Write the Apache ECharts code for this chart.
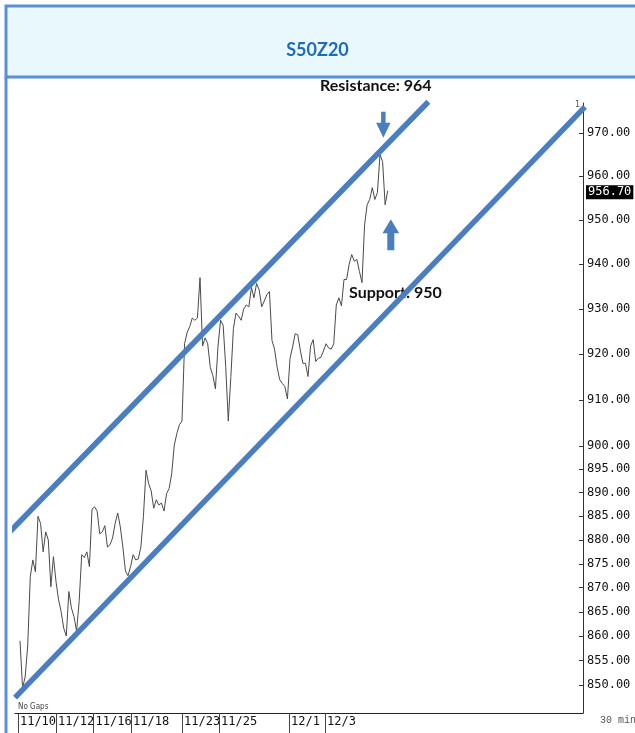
<!DOCTYPE html>
<html><head><meta charset="utf-8">
<script src="https://cdn.jsdelivr.net/npm/echarts@6/dist/echarts.min.js"></script>
<style>html,body{margin:0;padding:0;background:#fff}#c{width:635px;height:733px}</style>
</head><body><div id="c"></div>
<script>
// ---- data ----
const chartTitle = 'S50Z20';
// sampled closes (SET50 futures, 30-min chart), left to right
const closes = [
 859.0,849.4,851.6,858.0,872.3,875.8,873.3,885.0,883.5,877.5,
 881.7,880.0,870.2,876.5,871.3,867.5,865.0,861.6,860.0,869.2,
 865.8,864.0,861.0,867.1,876.9,876.3,877.5,874.4,886.5,887.0,
 886.1,881.3,881.7,883.0,878.5,879.0,880.4,883.5,885.7,882.8,
 878.5,873.5,872.5,874.4,876.9,875.8,876.0,878.5,885.0,894.8,
 892.0,890.4,886.7,888.5,887.4,887.8,886.1,889.8,890.9,894.1,
 900.2,902.7,904.6,905.4,922.3,924.8,926.1,928.0,927.5,928.0,
 937.0,921.8,923.6,922.3,917.1,915.3,912.4,921.8,927.5,926.4,
 917.3,905.4,915.1,925.7,929.1,928.4,927.5,930.0,930.9,930.5,
 934.8,932.5,935.7,934.3,930.5,931.8,933.2,933.9,923.0,921.1,
 917.1,914.4,913.6,912.9,910.2,919.1,921.6,924.5,924.3,920.9,
 918.0,918.0,915.1,921.8,923.2,918.4,919.1,919.3,920.7,922.3,
 921.4,921.1,922.3,930.9,932.5,930.7,936.6,936.6,940.0,942.2,
 940.7,941.1,938.4,935.9,948.9,953.5,954.7,957.4,954.7,956.3,
 965.0,963.4,953.5,956.7
];
const priceTicks = [850,855,860,865,870,875,880,885,890,895,900,910,920,930,940,950,960,970];
const dateLabels = ['11/10','11/12','11/16','11/18','11/23','11/25','12/1','12/3'];
const dateStarts = [-0.8, 14, 28.6, 43.2, 63, 77.4, 104.6, 118.6];
const resistanceLine = [[-4.55, 881.4], [158.8, 977.3]];
const supportLine = [[-1.94, 847.4], [219.7, 976.1]];
const resistanceArrow = [141.3, 971.9];
const supportArrow = [144.2, 946.7];
const resistanceText = 'Resistance: 964';
const supportText = 'Support: 950';
const priceRange = [844.3, 977.0];
const barRange = [-1.944, 218.94];

// ---- chart ----
const L = Math.log;
const last = closes[closes.length - 1];
const blue = '#4a7ebf';
const mono = 'DejaVu Sans Mono';

const chart = echarts.init(document.getElementById('c'), null, {renderer: 'canvas'});
chart.setOption({
  animation: false,
  backgroundColor: '#fff',
  title: {
    text: chartTitle, left: 'center', top: 36,
    textStyle: {color: '#1f6bb8', fontFamily: 'Lato', fontWeight: 'bold', fontSize: 18}
  },
  graphic: [
    {type: 'rect', z: -10, shape: {x: 6, y: 6, width: 640, height: 71},
     style: {fill: '#e9f8fd', stroke: '#5b8fd6', lineWidth: 3}},
    {type: 'line', z: -10, shape: {x1: 6, y1: 77, x2: 6, y2: 733},
     style: {stroke: '#5b8fd6', lineWidth: 3}},
    {type: 'text', left: 320, top: 78,
     style: {text: resistanceText, fill: '#111', font: 'bold 16px Lato'}},
    {type: 'text', left: 349, top: 285,
     style: {text: supportText, fill: '#111', font: 'bold 16px Lato'}},
    {type: 'text', left: 18, top: 703,
     style: {text: 'No Gaps', fill: '#444', font: '8px "DejaVu Sans Condensed"'}},
    {type: 'text', left: 600, top: 715,
     style: {text: '30 min', fill: '#555', font: '10px "Liberation Mono"'}},
    {type: 'text', left: 575, top: 101,
     style: {text: '1', fill: '#555', font: '8px "DejaVu Sans"'}}
  ],
  grid: {left: 15, right: 52, top: 103, bottom: 20},
  xAxis: {
    type: 'value', min: barRange[0], max: barRange[1],
    splitLine: {show: false},
    axisLine: {onZero: false, lineStyle: {color: '#222', width: 1}},
    axisTick: {customValues: dateStarts, length: 20, lineStyle: {color: '#444'}},
    axisLabel: {
      customValues: dateStarts, margin: 3, align: 'left', padding: [0, 0, 0, 2],
      color: '#111', fontFamily: mono, fontSize: 12,
      formatter: (v) => { const k = dateStarts.indexOf(v); return k >= 0 ? dateLabels[k] : ''; }
    }
  },
  yAxis: {
    type: 'value', position: 'right', min: L(priceRange[0]), max: L(priceRange[1]),
    splitLine: {show: false},
    axisLine: {show: true, onZero: false, lineStyle: {color: '#333', width: 1}},
    axisTick: {customValues: priceTicks.map(L), inside: true, length: 4, lineStyle: {color: '#333'}},
    axisLabel: {
      customValues: priceTicks.map(L), margin: 4, color: '#111', fontFamily: mono, fontSize: 12,
      formatter: (v) => Math.exp(v).toFixed(2)
    }
  },
  series: [
    {
      type: 'line', name: 'price', showSymbol: false, silent: true,
      data: closes.map((v, i) => [i, L(v)]),
      lineStyle: {color: '#4a4a4a', width: 1}, z: 3,
      markLine: {
        silent: true, symbol: ['none', 'none'],
        lineStyle: {color: 'rgba(0,0,0,0)', width: 0, type: 'solid'},
        label: {
          show: true, position: 'end', distance: 3, align: 'left', verticalAlign: 'middle',
          offset: [0, -13],
          formatter: () => last.toFixed(2),
          backgroundColor: '#000', color: '#fff', fontFamily: mono, fontSize: 12,
          padding: [1, 2, 1, 2]
        },
        data: [{yAxis: L(last)}]
      }
    },
    {
      type: 'line', name: 'resistance', showSymbol: false, silent: true, clip: false,
      data: resistanceLine.map(p => [p[0], L(p[1])]),
      lineStyle: {color: blue, width: 5.5}, z: 4
    },
    {
      type: 'line', name: 'support', showSymbol: false, silent: true, clip: false,
      data: supportLine.map(p => [p[0], L(p[1])]),
      lineStyle: {color: blue, width: 5.5}, z: 4
    },
    {
      type: 'scatter', silent: true, z: 5,
      symbol: 'path://M5,0 L9.5,0 L9.5,11 L14.5,11 L7.25,26 L0,11 L5,11 Z',
      symbolSize: [14.5, 26],
      itemStyle: {color: blue, opacity: 1},
      data: [[resistanceArrow[0], L(resistanceArrow[1])]]
    },
    {
      type: 'scatter', silent: true, z: 5,
      symbol: 'path://M8.35,0 L16.7,14 L11.85,14 L11.85,31 L4.85,31 L4.85,14 L0,14 Z',
      symbolSize: [16.7, 31],
      itemStyle: {color: blue, opacity: 1},
      data: [[supportArrow[0], L(supportArrow[1])]]
    }
  ]
});
</script>
</body></html>
